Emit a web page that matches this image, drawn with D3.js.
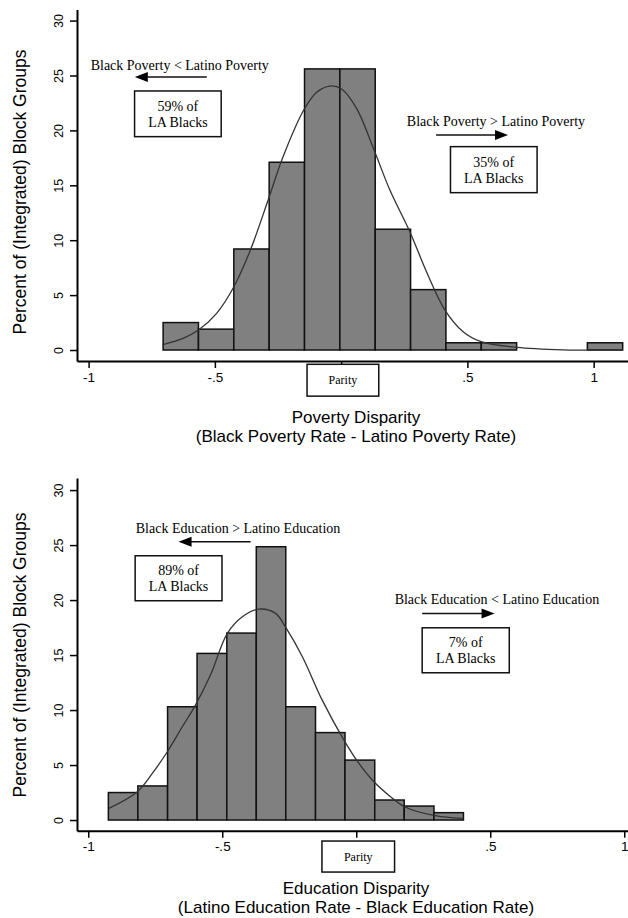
<!DOCTYPE html>
<html>
<head>
<meta charset="utf-8">
<script src="https://cdn.jsdelivr.net/npm/d3@7"></script>
<style>
  body { margin: 0; background: #fff; }
  svg { display: block; }
</style>
</head>
<body>
<div id="chart"></div>
<script>
// histogram bins: left/right edges and percent per bin
const povertyEdges = [-0.705, -0.565, -0.425, -0.285, -0.145, -0.005, 0.135, 0.275, 0.415, 0.555, 0.695, 0.835, 0.975, 1.115];
const povertyPct = [2.5, 1.9, 9.2, 17.1, 25.6, 25.6, 11.0, 5.5, 0.66, 0.66, 0, 0, 0.66];

const educationEdges = [-0.925, -0.815, -0.704, -0.594, -0.483, -0.373, -0.263, -0.152, -0.042, 0.069, 0.179, 0.290, 0.400];
const educationPct = [2.5, 3.1, 10.3, 15.15, 17.0, 24.85, 10.3, 7.95, 5.45, 1.82, 1.27, 0.67];

// fitted density curves
const povertyCurveX = [-0.702, -0.626, -0.565, -0.493, -0.428, -0.362, -0.289, -0.230, -0.148, -0.097, -0.045, 0.002, 0.061, 0.133, 0.193, 0.272, 0.338, 0.411, 0.483, 0.554, 0.695, 0.880, 1.115];
const povertyCurveY = [0.52, 1.06, 1.82, 3.34, 5.62, 8.95, 13.66, 17.6, 21.86, 23.47, 24.04, 23.77, 22.0, 18.06, 14.57, 10.78, 7.13, 3.64, 1.67, 0.76, 0.24, 0.02, 0];

const educationCurveX = [-0.923, -0.817, -0.761, -0.705, -0.649, -0.600, -0.544, -0.481, -0.425, -0.363, -0.301, -0.261, -0.201, -0.127, -0.046, 0.010, 0.066, 0.128, 0.180, 0.290, 0.400];
const educationCurveY = [1.06, 2.58, 4.24, 6.21, 8.48, 10.45, 13.18, 16.97, 18.48, 19.18, 18.79, 17.42, 14.85, 10.9, 7.27, 5.15, 3.48, 2.12, 1.21, 0.42, 0.15];

const yTicks = [0, 5, 10, 15, 20, 25, 30];
const xTicks = [-1, -0.5, 0, 0.5, 1];
const xTickLabels = ['-1', '-.5', '', '.5', '1'];

const yLabel = 'Percent of (Integrated) Block Groups';

const width = 628;
const height = 918;

const svg = d3.select('#chart')
  .append('svg')
  .attr('width', width)
  .attr('height', height);

const sans = 'Liberation Sans, Arial, sans-serif';
const serif = 'Liberation Serif, Times New Roman, serif';

function drawPanel(p) {
  const g = svg.append('g');

  const x = d3.scaleLinear().domain(p.xDomain).range([77, 628]);
  const y = d3.scaleLinear().domain(p.yDomain).range(p.yRange);

  const bins = p.pct.map((v, i) => ({ x0: p.edges[i], x1: p.edges[i + 1], v }));

  g.selectAll('.bar')
    .data(bins.filter(d => d.v > 0))
    .enter()
    .append('rect')
    .attr('class', 'bar')
    .attr('x', d => x(d.x0))
    .attr('y', d => y(d.v))
    .attr('width', d => x(d.x1) - x(d.x0))
    .attr('height', d => y(0) - y(d.v))
    .attr('fill', '#808080')
    .attr('stroke', '#111')
    .attr('stroke-width', 1.5);

  const line = d3.line()
    .x(d => x(d[0]))
    .y(d => y(d[1]))
    .curve(d3.curveCatmullRom);

  g.append('path')
    .datum(p.curveX.map((v, i) => [v, p.curveY[i]]))
    .attr('d', line)
    .attr('fill', 'none')
    .attr('stroke', '#333')
    .attr('stroke-width', 1.3);

  // y axis
  const yAxis = g.append('g')
    .attr('transform', 'translate(77,0)')
    .call(d3.axisLeft(y).tickValues(yTicks).tickSize(7).tickSizeOuter(0).tickPadding(4));
  yAxis.select('.domain').attr('stroke-width', 2);
  yAxis.selectAll('.tick line').attr('stroke-width', 1.5);
  yAxis.selectAll('.tick text')
    .attr('font-family', sans)
    .attr('font-size', '12.5px')
    .attr('fill', '#000')
    .attr('transform', 'rotate(-90)')
    .attr('x', 0)
    .attr('y', -14)
    .attr('dy', 0)
    .style('text-anchor', 'middle');

  // x axis
  const xAxis = g.append('g')
    .attr('transform', `translate(0,${y(p.yDomain[0])})`)
    .call(d3.axisBottom(x).tickValues(xTicks).tickFormat((d, i) => xTickLabels[i])
      .tickSize(7).tickSizeOuter(0).tickPadding(4));
  xAxis.select('.domain').attr('stroke-width', 2);
  xAxis.selectAll('.tick line').attr('stroke-width', 1.5);
  xAxis.selectAll('.tick text')
    .attr('font-family', sans)
    .attr('font-size', '13.5px')
    .attr('fill', '#000');

  // parity box under zero
  const pb = p.parity;
  g.append('rect')
    .attr('x', x(pb.x0)).attr('y', y(pb.y0))
    .attr('width', x(pb.x1) - x(pb.x0)).attr('height', y(pb.y1) - y(pb.y0))
    .attr('fill', '#fff').attr('stroke', '#111').attr('stroke-width', 1.5);
  g.append('text')
    .attr('x', x((pb.x0 + pb.x1) / 2)).attr('y', y((pb.y0 + pb.y1) / 2))
    .attr('dy', '0.35em')
    .attr('text-anchor', 'middle')
    .attr('font-family', serif).attr('font-size', '12px')
    .text('Parity');

  // annotations
  p.notes.forEach(n => {
    g.append('text')
      .attr('x', x(n.tx)).attr('y', y(n.ty)).attr('dy', '0.35em')
      .attr('text-anchor', 'middle')
      .attr('font-family', serif).attr('font-size', '14px')
      .text(n.label);

    const ay = y(n.ay);
    const dir = n.a1 > n.a0 ? 1 : -1;
    const tip = x(n.a1);
    g.append('line')
      .attr('x1', x(n.a0)).attr('x2', tip - dir * 10)
      .attr('y1', ay).attr('y2', ay)
      .attr('stroke', '#111').attr('stroke-width', 1.5);
    g.append('path')
      .attr('d', `M${tip},${ay} L${tip - dir * 13},${ay - 5} L${tip - dir * 13},${ay + 5} Z`)
      .attr('fill', '#000');

    g.append('rect')
      .attr('x', x(n.bx0)).attr('y', y(n.by0))
      .attr('width', x(n.bx1) - x(n.bx0)).attr('height', y(n.by1) - y(n.by0))
      .attr('fill', '#fff').attr('stroke', '#111').attr('stroke-width', 1.5);
    const cx = x((n.bx0 + n.bx1) / 2);
    const cy = (y(n.by0) + y(n.by1)) / 2;
    g.append('text')
      .attr('x', cx).attr('y', cy - 8).attr('dy', '0.35em')
      .attr('text-anchor', 'middle')
      .attr('font-family', serif).attr('font-size', '14px')
      .text(n.share);
    g.append('text')
      .attr('x', cx).attr('y', cy + 8).attr('dy', '0.35em')
      .attr('text-anchor', 'middle')
      .attr('font-family', serif).attr('font-size', '14px')
      .text('LA Blacks');
  });

  // axis titles
  g.append('text')
    .attr('transform', `translate(26,${p.yLabelY}) rotate(-90)`)
    .attr('text-anchor', 'middle')
    .attr('font-family', sans).attr('font-size', '17.5px')
    .text(yLabel);

  p.xTitle.forEach((t, i) => {
    g.append('text')
      .attr('x', 356).attr('y', p.xTitleY + i * 19)
      .attr('dy', '0.35em')
      .attr('text-anchor', 'middle')
      .attr('font-family', sans).attr('font-size', '17px')
      .text(t);
  });
}

drawPanel({
  edges: povertyEdges,
  pct: povertyPct,
  curveX: povertyCurveX,
  curveY: povertyCurveY,
  xDomain: [-1.046, 1.136],
  yDomain: [-1, 31],
  yRange: [361, 9.6],
  parity: { x0: -0.135, x1: 0.149, y0: -1.3, y1: -4.2 },
  notes: [
    { label: 'Black Poverty < Latino Poverty', tx: -0.639, ty: 25.96,
      a0: -0.532, a1: -0.817, ay: 24.86,
      bx0: -0.818, bx1: -0.475, by0: 23.59, by1: 19.43, share: '59% of' },
    { label: 'Black Poverty > Latino Poverty', tx: 0.613, ty: 20.86,
      a0: 0.376, a1: 0.661, ay: 19.58,
      bx0: 0.433, bx1: 0.776, by0: 18.52, by1: 14.33, share: '35% of' }
  ],
  yLabelY: 192,
  xTitle: ['Poverty Disparity', '(Black Poverty Rate - Latino Poverty Rate)'],
  xTitleY: 417
});

drawPanel({
  edges: educationEdges,
  pct: educationPct,
  curveX: educationCurveX,
  curveY: educationCurveY,
  xDomain: [-1.042, 1.014],
  yDomain: [-0.97, 31.1],
  yRange: [830.7, 478],
  parity: { x0: -0.128, x1: 0.143, y0: -1.91, y1: -4.73 },
  notes: [
    { label: 'Black Education > Latino Education', tx: -0.441, ty: 26.55,
      a0: -0.394, a1: -0.663, ay: 25.3,
      bx0: -0.825, bx1: -0.501, by0: 24.03, by1: 19.94, share: '89% of' },
    { label: 'Black Education < Latino Education', tx: 0.525, ty: 20.06,
      a0: 0.246, a1: 0.516, ay: 18.79,
      bx0: 0.246, bx1: 0.571, by0: 17.48, by1: 13.39, share: '7% of' }
  ],
  yLabelY: 655,
  xTitle: ['Education Disparity', '(Latino Education Rate - Black Education Rate)'],
  xTitleY: 888
});
</script>
</body>
</html>
